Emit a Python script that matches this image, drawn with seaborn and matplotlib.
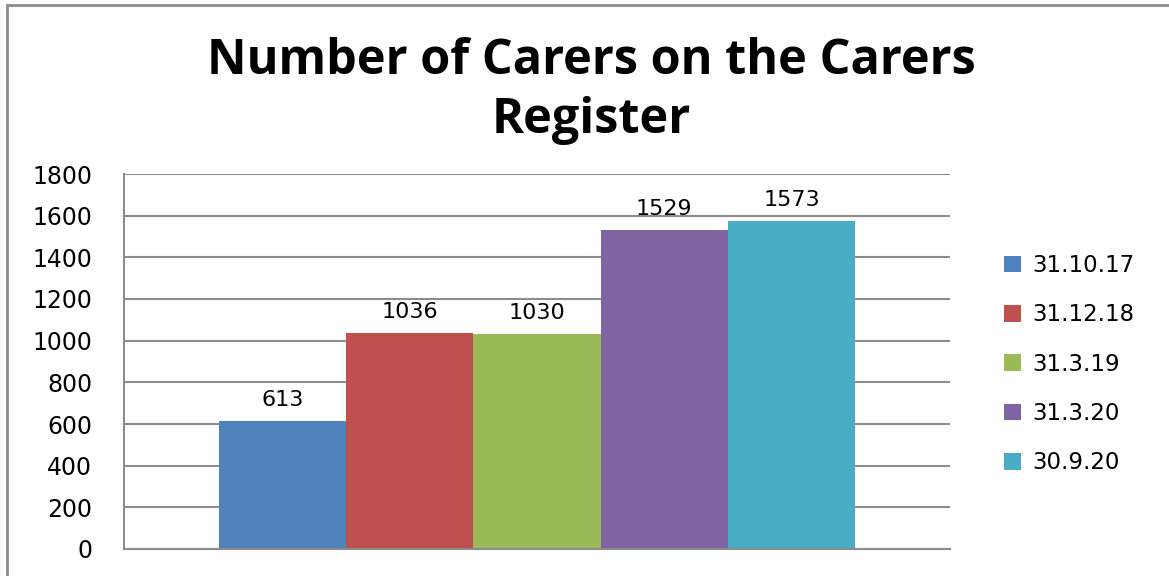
import matplotlib
matplotlib.use("Agg")
import matplotlib.pyplot as plt
import pandas as pd
import seaborn as sns
from matplotlib.patches import Rectangle

dates = ["31.10.17", "31.12.18", "31.3.19", "31.3.20", "30.9.20"]
carers = [613, 1036, 1030, 1529, 1573]
colours = ["#4F81BD", "#C0504D", "#9BBB59", "#8064A2", "#4BACC6"]
y_ticks = list(range(0, 1801, 200))

sns.set_theme(style="white")
plt.rcParams["font.family"] = ["DejaVu Sans"]
plt.rcParams["text.color"] = "black"
plt.rcParams["ytick.color"] = "black"

df = pd.DataFrame({"group": [""] * len(dates), "date": dates, "carers": carers})

fig = plt.figure(figsize=(11.69, 5.76), dpi=100)
ax = fig.add_axes([124 / 1169, 1 - 549 / 576, 826 / 1169, 375 / 576])

sns.barplot(data=df, x="group", y="carers", hue="date", hue_order=dates,
            palette=colours, width=0.77, gap=0, saturation=1, ax=ax,
            edgecolor="none", linewidth=0)

for cont in ax.containers:
    ax.bar_label(cont, padding=8, fontsize=16, color="black")

ax.set_ylim(0, 1800)
ax.set_yticks(y_ticks)
ax.set_yticklabels([str(t) for t in y_ticks], fontsize=17)
ax.tick_params(axis="y", length=0, pad=23, colors="black")
ax.set_xticks([])
ax.set_xlabel("")
ax.set_ylabel("")
ax.yaxis.grid(True, color="#8c8c8c", linewidth=1.5)
ax.set_axisbelow(True)
for side in ["top", "right"]:
    ax.spines[side].set_visible(False)
for side in ["left", "bottom"]:
    ax.spines[side].set_color("#8c8c8c")
    ax.spines[side].set_linewidth(1.5)

ax.legend(loc="center left", bbox_to_anchor=(1.04, 0.493), frameon=False,
          fontsize=16.5, handlelength=0.75, handleheight=0.75,
          handletextpad=0.5, labelspacing=1.15)

fig.text(0.506, 0.842, "Number of Carers on the Carers\nRegister",
         ha="center", va="center", fontsize=35, fontweight="bold",
         family=["Open Sans", "DejaVu Sans"], color="black", linespacing=1.25)

# chart frame, left and top edges only visible
fig.patches.append(Rectangle((7 / 1169, -0.1), 1.2, 1 - 5 / 576 + 0.1,
                             transform=fig.transFigure, fill=False,
                             edgecolor="#8c8c8c", linewidth=2))

fig.savefig("out.png", dpi=100)
